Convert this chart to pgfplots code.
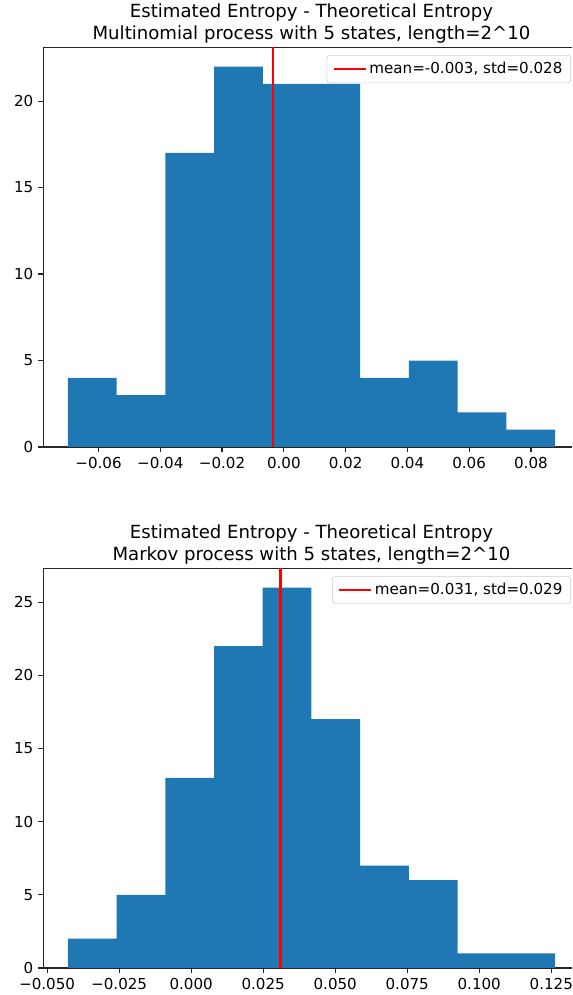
\documentclass[border=0pt]{standalone}
\usepackage{fontspec}
\setmainfont{DejaVu Sans}
\usepackage{pgfplots}
\pgfplotsset{compat=1.18}
\definecolor{mplblue}{HTML}{1F77B4}
\pgfplotsset{
  mystyle/.style={
    scale only axis,
    width=380.52pt, height=287.64pt,
    axis x line*=box, axis y line*=left,
    axis line style={line width=0.85pt, black!85},
    xtick pos=bottom, ytick pos=left,
    tick align=outside,
    major tick length=3.8pt,
    every tick/.style={line width=0.85pt, black!85},
    tick label style={font=\fontsize{10.87}{13}\selectfont},
    scaled x ticks=false, scaled y ticks=false,
    /pgf/number format/assume math mode=true,
    ymin=0,
    title style={font=\fontsize{13.04}{15.9}\selectfont, align=center, anchor=south, inner sep=0pt, yshift=-3.5pt},
    legend style={at={(rel axis cs:1,1)}, anchor=north east, xshift=-0.7pt, yshift=-5.5pt,
      draw=black!20, rounded corners=2pt, fill=white, fill opacity=0.8, text opacity=1,
      font=\fontsize{10.87}{13}\selectfont, inner xsep=4pt, inner ysep=3pt},
    legend cell align=left,
    legend image code/.code={\draw[##1] (0pt,0pt) -- (23pt,0pt);},
  }
}
\begin{document}
\begin{tikzpicture}
\useasboundingbox (0,0) rectangle (411.84pt,716.4pt);
% Top plot
\begin{axis}[mystyle,
  at={(31.32pt,394.56pt)}, anchor=south west,
  xmin=-0.0778, xmax=0.0933, ymax=23.1,
  xtick={-0.06,-0.04,-0.02,0,0.02,0.04,0.06,0.08},
  xticklabels={−0.06,−0.04,−0.02,0.00,0.02,0.04,0.06,0.08},
  ytick={0,5,10,15,20},
  title style={at={(0.507,1)}},
  title={Estimated Entropy - Theoretical Entropy\\Multinomial process with 5 states, length=2\textasciicircum10},
]
\addplot[ybar interval, fill=mplblue, draw=none, forget plot] coordinates {
  (-0.0699,4) (-0.05413,3) (-0.03836,17) (-0.02259,22) (-0.00682,21)
  (0.00895,21) (0.02472,4) (0.04049,5) (0.05626,2) (0.07203,1) (0.0878,1)
};
\addplot[red, line width=1.6pt] coordinates {(-0.0034,0) (-0.0034,23.1)};
\addlegendentry{mean=-0.003, std=0.028}
\end{axis}
% Bottom plot
\begin{axis}[mystyle,
  at={(31.32pt,19.44pt)}, anchor=south west,
  xmin=-0.05126, xmax=0.1322, ymax=27.3,
  xtick={-0.05,-0.025,0,0.025,0.05,0.075,0.1,0.125},
  xticklabels={−0.050,−0.025,0.000,0.025,0.050,0.075,0.100,0.125},
  ytick={0,5,10,15,20,25},
  title style={at={(0.507,1)}},
  title={Estimated Entropy - Theoretical Entropy\\Markov process with 5 states, length=2\textasciicircum10},
]
\addplot[ybar interval, fill=mplblue, draw=none, forget plot] coordinates {
  (-0.0428,2) (-0.02589,5) (-0.00898,13) (0.00793,22) (0.02484,26)
  (0.04175,17) (0.05866,7) (0.07557,6) (0.09248,1) (0.10939,1) (0.1263,1)
};
\addplot[red, line width=1.6pt] coordinates {(0.031,0) (0.031,27.3)};
\addlegendentry{mean=0.031, std=0.029}
\end{axis}
\end{tikzpicture}
\end{document}
